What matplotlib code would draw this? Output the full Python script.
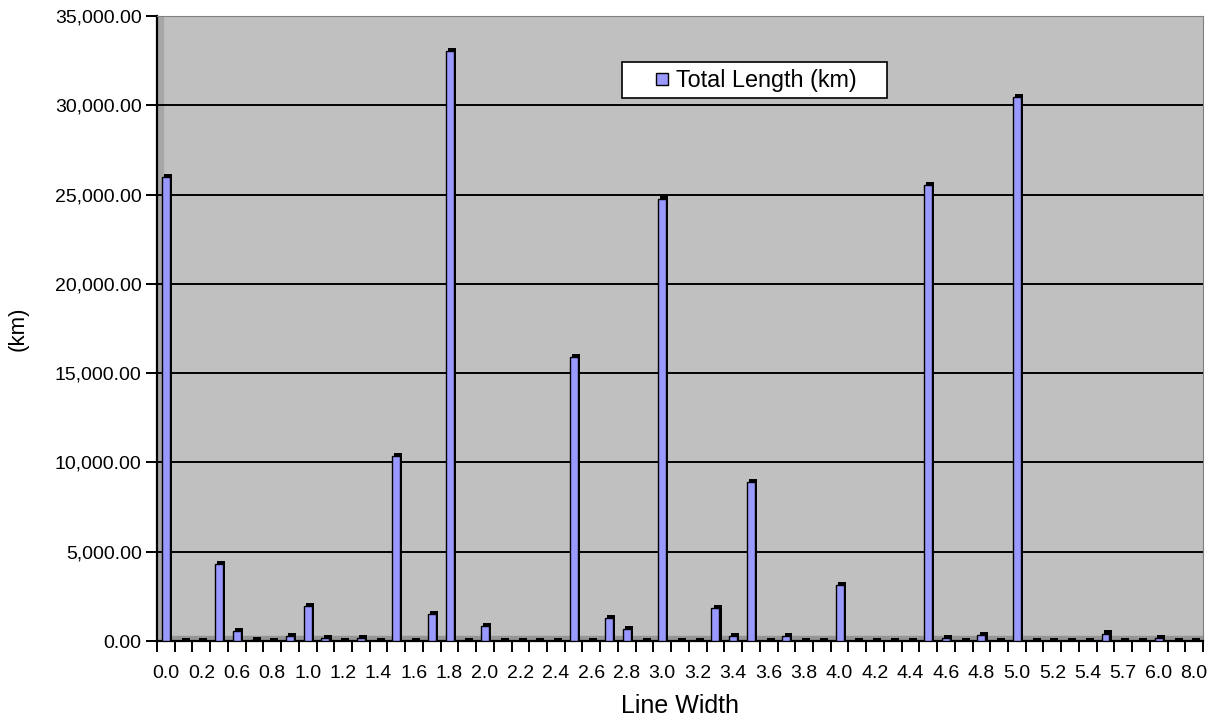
import numpy as np
import matplotlib
matplotlib.use("Agg")
import matplotlib.pyplot as plt
from matplotlib.patches import Rectangle

plt.rcParams['font.family'] = ['Liberation Sans', 'DejaVu Sans']

# line width categories (odd ones are not labelled on the axis)
widths = ['0.0', '0.1', '0.2', '0.5', '0.6', '0.7', '0.8', '0.9', '1.0', '1.1',
          '1.2', '1.3', '1.4', '1.5', '1.6', '1.7', '1.8', '1.9', '2.0', '2.1',
          '2.2', '2.3', '2.4', '2.5', '2.6', '2.7', '2.8', '2.9', '3.0', '3.1',
          '3.2', '3.3', '3.4', '3.5', '3.6', '3.7', '3.8', '3.9', '4.0', '4.1',
          '4.2', '4.3', '4.4', '4.5', '4.6', '4.7', '4.8', '4.9', '5.0', '5.1',
          '5.2', '5.3', '5.4', '5.5', '5.7', '5.8', '6.0', '7.0', '8.0']

# total length (km)
total_km = [26000, 0, 0, 4300, 550, 30, 20, 300, 1980, 180,
            20, 180, 0, 10350, 20, 1520, 33050, 0, 850, 0,
            20, 20, 0, 15900, 0, 1300, 650, 20, 24750, 20,
            20, 1850, 300, 8900, 20, 300, 20, 20, 3150, 20,
            20, 20, 20, 25550, 180, 20, 320, 0, 30450, 0,
            20, 0, 0, 420, 0, 0, 180, 0, 20]

yticks = [0, 5000, 10000, 15000, 20000, 25000, 30000, 35000]

x = np.arange(len(widths))
v = np.array(total_km)

fig = plt.figure(figsize=(12.29, 7.24), dpi=100)
ax = fig.add_axes([157/1229, 1 - 641/724, (1203 - 157)/1229, 625/724])
ax.set_facecolor('#C0C0C0')

ax.set_xlim(-0.5, len(widths) - 0.5)
ax.set_ylim(0, 35000)

# floor and left wall of the 3d box
ax.axhspan(0, 260, color='#969696', zorder=1)
ax.axvspan(-0.5, -0.15, color='#A6A6A6', zorder=1)

for t in yticks[1:-1]:
    ax.axhline(t, color='black', lw=1.4, zorder=1.5)

bw = 0.45
dy = 170
# dark side / top of each column, then the front face
ax.bar(x + 0.12, v + dy, width=bw, color='black', zorder=2)
ax.bar(x, v, width=bw, color='#9999FF', edgecolor='black', lw=1, zorder=3)

ax.set_yticks(yticks)
ax.set_yticklabels(['{:,.2f}'.format(t) for t in yticks], fontsize=14)
ax.set_xticks(np.arange(-0.5, len(widths), 1))
ax.set_xticklabels([])
ax.set_xticks(x[::2], minor=True)
ax.set_xticklabels(widths[::2], minor=True, fontsize=14)
ax.tick_params(axis='x', which='major', length=8, width=1.4, color='black')
ax.tick_params(axis='x', which='minor', length=0, pad=17)
ax.tick_params(axis='y', length=8, width=1.4, pad=3)

for s in ['top', 'right']:
    ax.spines[s].set_color('#808080')
ax.spines['left'].set_linewidth(1.6)
ax.spines['bottom'].set_linewidth(1.6)

ax.set_xlabel('Line Width', fontsize=18, labelpad=9)
ax.set_ylabel('(km)', fontsize=16, labelpad=19)

# legend box, placed like the original (pixel positions -> axes fraction)
def px(xp, yp):
    return ((xp - 157) / 1046, (641 - yp) / 625)

lx, ly = px(622, 98)
rx, ry = px(887, 62)
ax.add_patch(Rectangle((lx, ly), rx - lx, ry - ly, transform=ax.transAxes,
                       facecolor='white', edgecolor='black', lw=1.2, zorder=5))
mx, my = px(656, 85)
mx2, my2 = px(668, 73)
ax.add_patch(Rectangle((mx, my), mx2 - mx, my2 - my, transform=ax.transAxes,
                       facecolor='#9999FF', edgecolor='black', lw=1, zorder=6))
tx, ty = px(676, 80)
ax.text(tx, ty, 'Total Length (km)', transform=ax.transAxes, fontsize=16.8,
        va='center', ha='left', zorder=6)

fig.savefig('out.png', dpi=100)
